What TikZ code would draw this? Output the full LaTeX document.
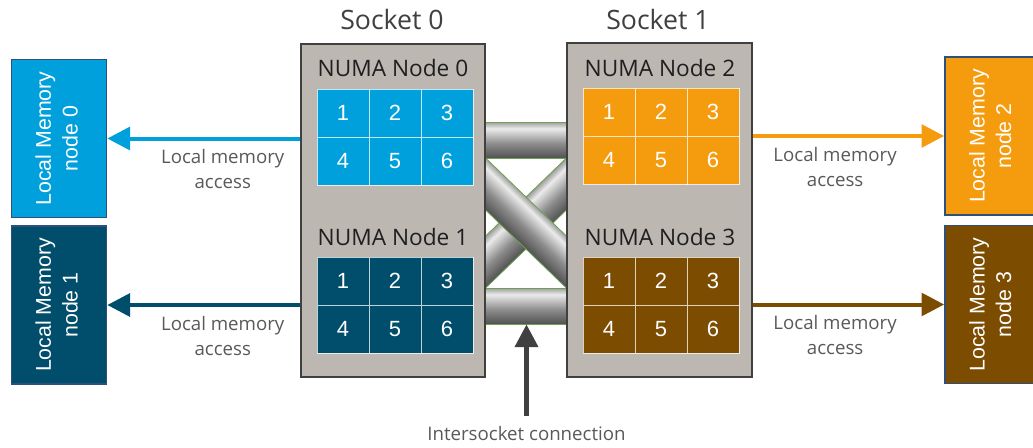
\documentclass[tikz,border=0pt]{standalone}
\usepackage{fontspec}
\setmainfont{Open Sans}
\newfontfamily\arialfont{Liberation Sans}
\usepackage{tikz}
\usetikzlibrary{arrows.meta,positioning,shadings}

\definecolor{numablue}{RGB}{0,160,220}
\definecolor{numateal}{RGB}{0,78,108}
\definecolor{numaorange}{RGB}{245,156,14}
\definecolor{numabrown}{RGB}{124,76,0}
\definecolor{socketgray}{RGB}{188,183,177}
\definecolor{socketline}{RGB}{64,64,64}
\definecolor{memline}{RGB}{47,80,125}
\definecolor{barline}{RGB}{112,160,80}
\definecolor{textgray}{RGB}{89,89,89}

\pgfdeclareverticalshading{barshade}{100bp}{color(0bp)=(black!68); color(25bp)=(black!68); color(45bp)=(black!45); color(66bp)=(black!8); color(75bp)=(black!38); color(100bp)=(black!38)}

\begin{document}
\begin{tikzpicture}[
    x=0.75pt, y=-0.75pt,
    >={Triangle[length=17pt,width=17pt]},
    font=\normalfont,
    socket/.style={
		rectangle,
		draw=socketline,
		line width=1.5pt,
		fill=socketgray,
		minimum width=138.5pt,
		minimum height=250pt,
		inner sep=0pt
	},
	sockettitle/.style={
		anchor=base,
		text=socketline,
		font=\fontsize{20}{24}\selectfont
	},
	numatitle/.style={
		anchor=base,
		text=black!88,
		font=\fontsize{17}{20}\selectfont
	},
	cell/.style={
		rectangle,
		draw=white,
		draw opacity=0.75,
		line width=0.6pt,
		minimum width=39pt,
		minimum height=36pt,
		inner sep=0pt,
		text=white,
		font=\arialfont\fontsize{16.5}{19}\selectfont
	},
	memory/.style={
		rectangle,
		rotate=90,
		draw=memline,
		line width=1pt,
		minimum width=118.5pt,
		minimum height=71.5pt,
		inner sep=0pt,
		text=white,
		font=\arialfont\fontsize{16}{20}\selectfont
	},
	access/.style={
		line width=3pt,
		->
	},
	acclabel/.style={
		inner sep=0pt,
		text=textgray,
		font=\fontsize{14}{18.75}\selectfont
	},
	hbar/.style={
		rectangle,
		shade,
		shading=barshade,
		draw=barline,
		line width=0.6pt,
		minimum width=61.5pt,
		minimum height=27pt,
		inner sep=0pt
	},
	dbar/.style={
		shade,
		shading=barshade,
		draw=barline,
		line width=0.6pt
	},
	islabel/.style={
		anchor=base,
		inner sep=0pt,
		text=textgray,
		font=\fontsize{14}{18}\selectfont
	},
	isarrow/.style={
		line width=3.5pt,
		draw=socketline,
		->
	}
  ]
  \useasboundingbox (0,0) rectangle (1033,447);

  % crossed links between the sockets
  \begin{scope}
    \clip (485,158) rectangle (567,288);
    \shade [dbar, transform canvas={rotate around={44:(526,223)}}] (436,204.3) rectangle (616,241.7);
    \shade [dbar, transform canvas={rotate around={-44:(526,223)}}] (436,204.3) rectangle (616,241.7);
  \end{scope}
  \node [hbar] (bartop) at (526,140) {};
  \node [hbar] (barbot) at (526,306) {};

  % We start by placing the sockets
  \node [socket] (socket0) at (393,210.5) {};
  \node [socket] (socket1) at (659.5,210) {};
  \node [sockettitle] (title0) at (392,29) {Socket 0};
  \node [sockettitle] (title1) at (658,29) {Socket 1};

  \node [numatitle] (numa0) at (393,76.7) {NUMA Node 0};
  \node [numatitle] (numa1) at (393,245.7) {NUMA Node 1};
  \node [numatitle] (numa2) at (660,76.7) {NUMA Node 2};
  \node [numatitle] (numa3) at (660,245.7) {NUMA Node 3};

  % cores of each numa node
  \foreach \g/\gx/\gy/\col in {0/317/89/numablue, 1/317/257/numateal, 2/583/88/numaorange, 3/583/257/numabrown} {
    \foreach \n in {1,...,6} {
      \pgfmathsetmacro{\cx}{\gx+26+52*mod(\n-1,3)}
      \pgfmathsetmacro{\cy}{\gy+24+48*int((\n-1)/3)}
      \node [cell, fill=\col] (g\g-\n) at (\cx,\cy) {\n};
    }
  }

  % local memories
  \node [memory, fill=numablue] (mem0) at (59,138.5)
 {%
 \begin{tabular}{@{}c@{}}
  Local Memory\\
  node 0
 \end{tabular}
 };
  \node [memory, fill=numateal] (mem1) at (59,305)
 {%
 \begin{tabular}{@{}c@{}}
  Local Memory\\
  node 1
 \end{tabular}
 };
  \node [memory, fill=numaorange] (mem2) at (992.5,136)
 {%
 \begin{tabular}{@{}c@{}}
  Local Memory\\
  node 2
 \end{tabular}
 };
  \node [memory, fill=numabrown] (mem3) at (992.5,304.5)
 {%
 \begin{tabular}{@{}c@{}}
  Local Memory\\
  node 3
 \end{tabular}
 };

 \draw [access, numablue] (socket0.west |- mem0) -- node [acclabel, pos=0.4, yshift=-24.4pt] {\begin{tabular}{@{}c@{}}Local memory\\access\end{tabular}} (mem0);
 \draw [access, numateal] (socket0.west |- mem1) -- node [acclabel, pos=0.4, yshift=-24.4pt] {\begin{tabular}{@{}c@{}}Local memory\\access\end{tabular}} (mem1);
 \draw [access, numaorange] (socket1.east |- mem2) -- node [acclabel, pos=0.43, yshift=-24.4pt] {\begin{tabular}{@{}c@{}}Local memory\\access\end{tabular}} (mem2);
 \draw [access, numabrown] (socket1.east |- mem3) -- node [acclabel, pos=0.43, yshift=-24.4pt] {\begin{tabular}{@{}c@{}}Local memory\\access\end{tabular}} (mem3);

 \node [islabel] (icl) at (526.5,440) {Intersocket connection};
 \draw [isarrow] ([yshift=7pt]icl.north) -- (icl.north |- barbot.south);

\end{tikzpicture}
\end{document}
